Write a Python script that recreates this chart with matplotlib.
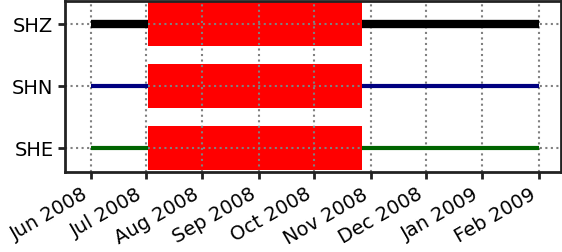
import numpy as np
import matplotlib
matplotlib.use("Agg")
import matplotlib.pyplot as plt
import matplotlib.dates as mdates
from datetime import datetime

channels = ["SHE", "SHN", "SHZ"]
colors = ["darkgreen", "navy", "black"]
widths = [3.0, 3.0, 6.0]
data_start = datetime(2008, 6, 1)
data_end = datetime(2009, 2, 1)
gap_start = datetime(2008, 7, 2)
gap_end = datetime(2008, 10, 27)
tick_dates = [datetime(2008, m, 1) for m in range(6, 13)] + [datetime(2009, 1, 1), datetime(2009, 2, 1)]

fig = plt.figure(figsize=(5.62, 2.53), dpi=100)
ax = fig.add_axes([0.116, 0.316, 0.882, 0.676])

for i, ch in enumerate(channels):
    # gap
    x0 = mdates.date2num(gap_start)
    x1 = mdates.date2num(gap_end)
    ax.add_patch(plt.Rectangle((x0, i - 0.36), x1 - x0, 0.72, color="red", lw=0))
    ax.plot([data_start, gap_start], [i, i], color=colors[i], lw=widths[i], solid_capstyle="butt")
    ax.plot([gap_end, data_end], [i, i], color=colors[i], lw=widths[i], solid_capstyle="butt")

ax.set_yticks(range(len(channels)))
ax.set_yticklabels(channels)
ax.set_ylim(-0.39, 2.37)
ax.set_xlim(datetime(2008, 5, 18), datetime(2009, 2, 13))
ax.set_xticks(tick_dates)
ax.xaxis.set_major_formatter(mdates.DateFormatter("%b %Y"))
ax.grid(True, ls=":", color="grey", lw=1.5)
plt.setp(ax.get_xticklabels(), rotation=30, ha="right")
ax.tick_params(labelsize=14, width=2, length=5, color="#222222")
for s in ax.spines.values():
    s.set_linewidth(2)
    s.set_color("#222222")

fig.savefig("out.png", dpi=100)
